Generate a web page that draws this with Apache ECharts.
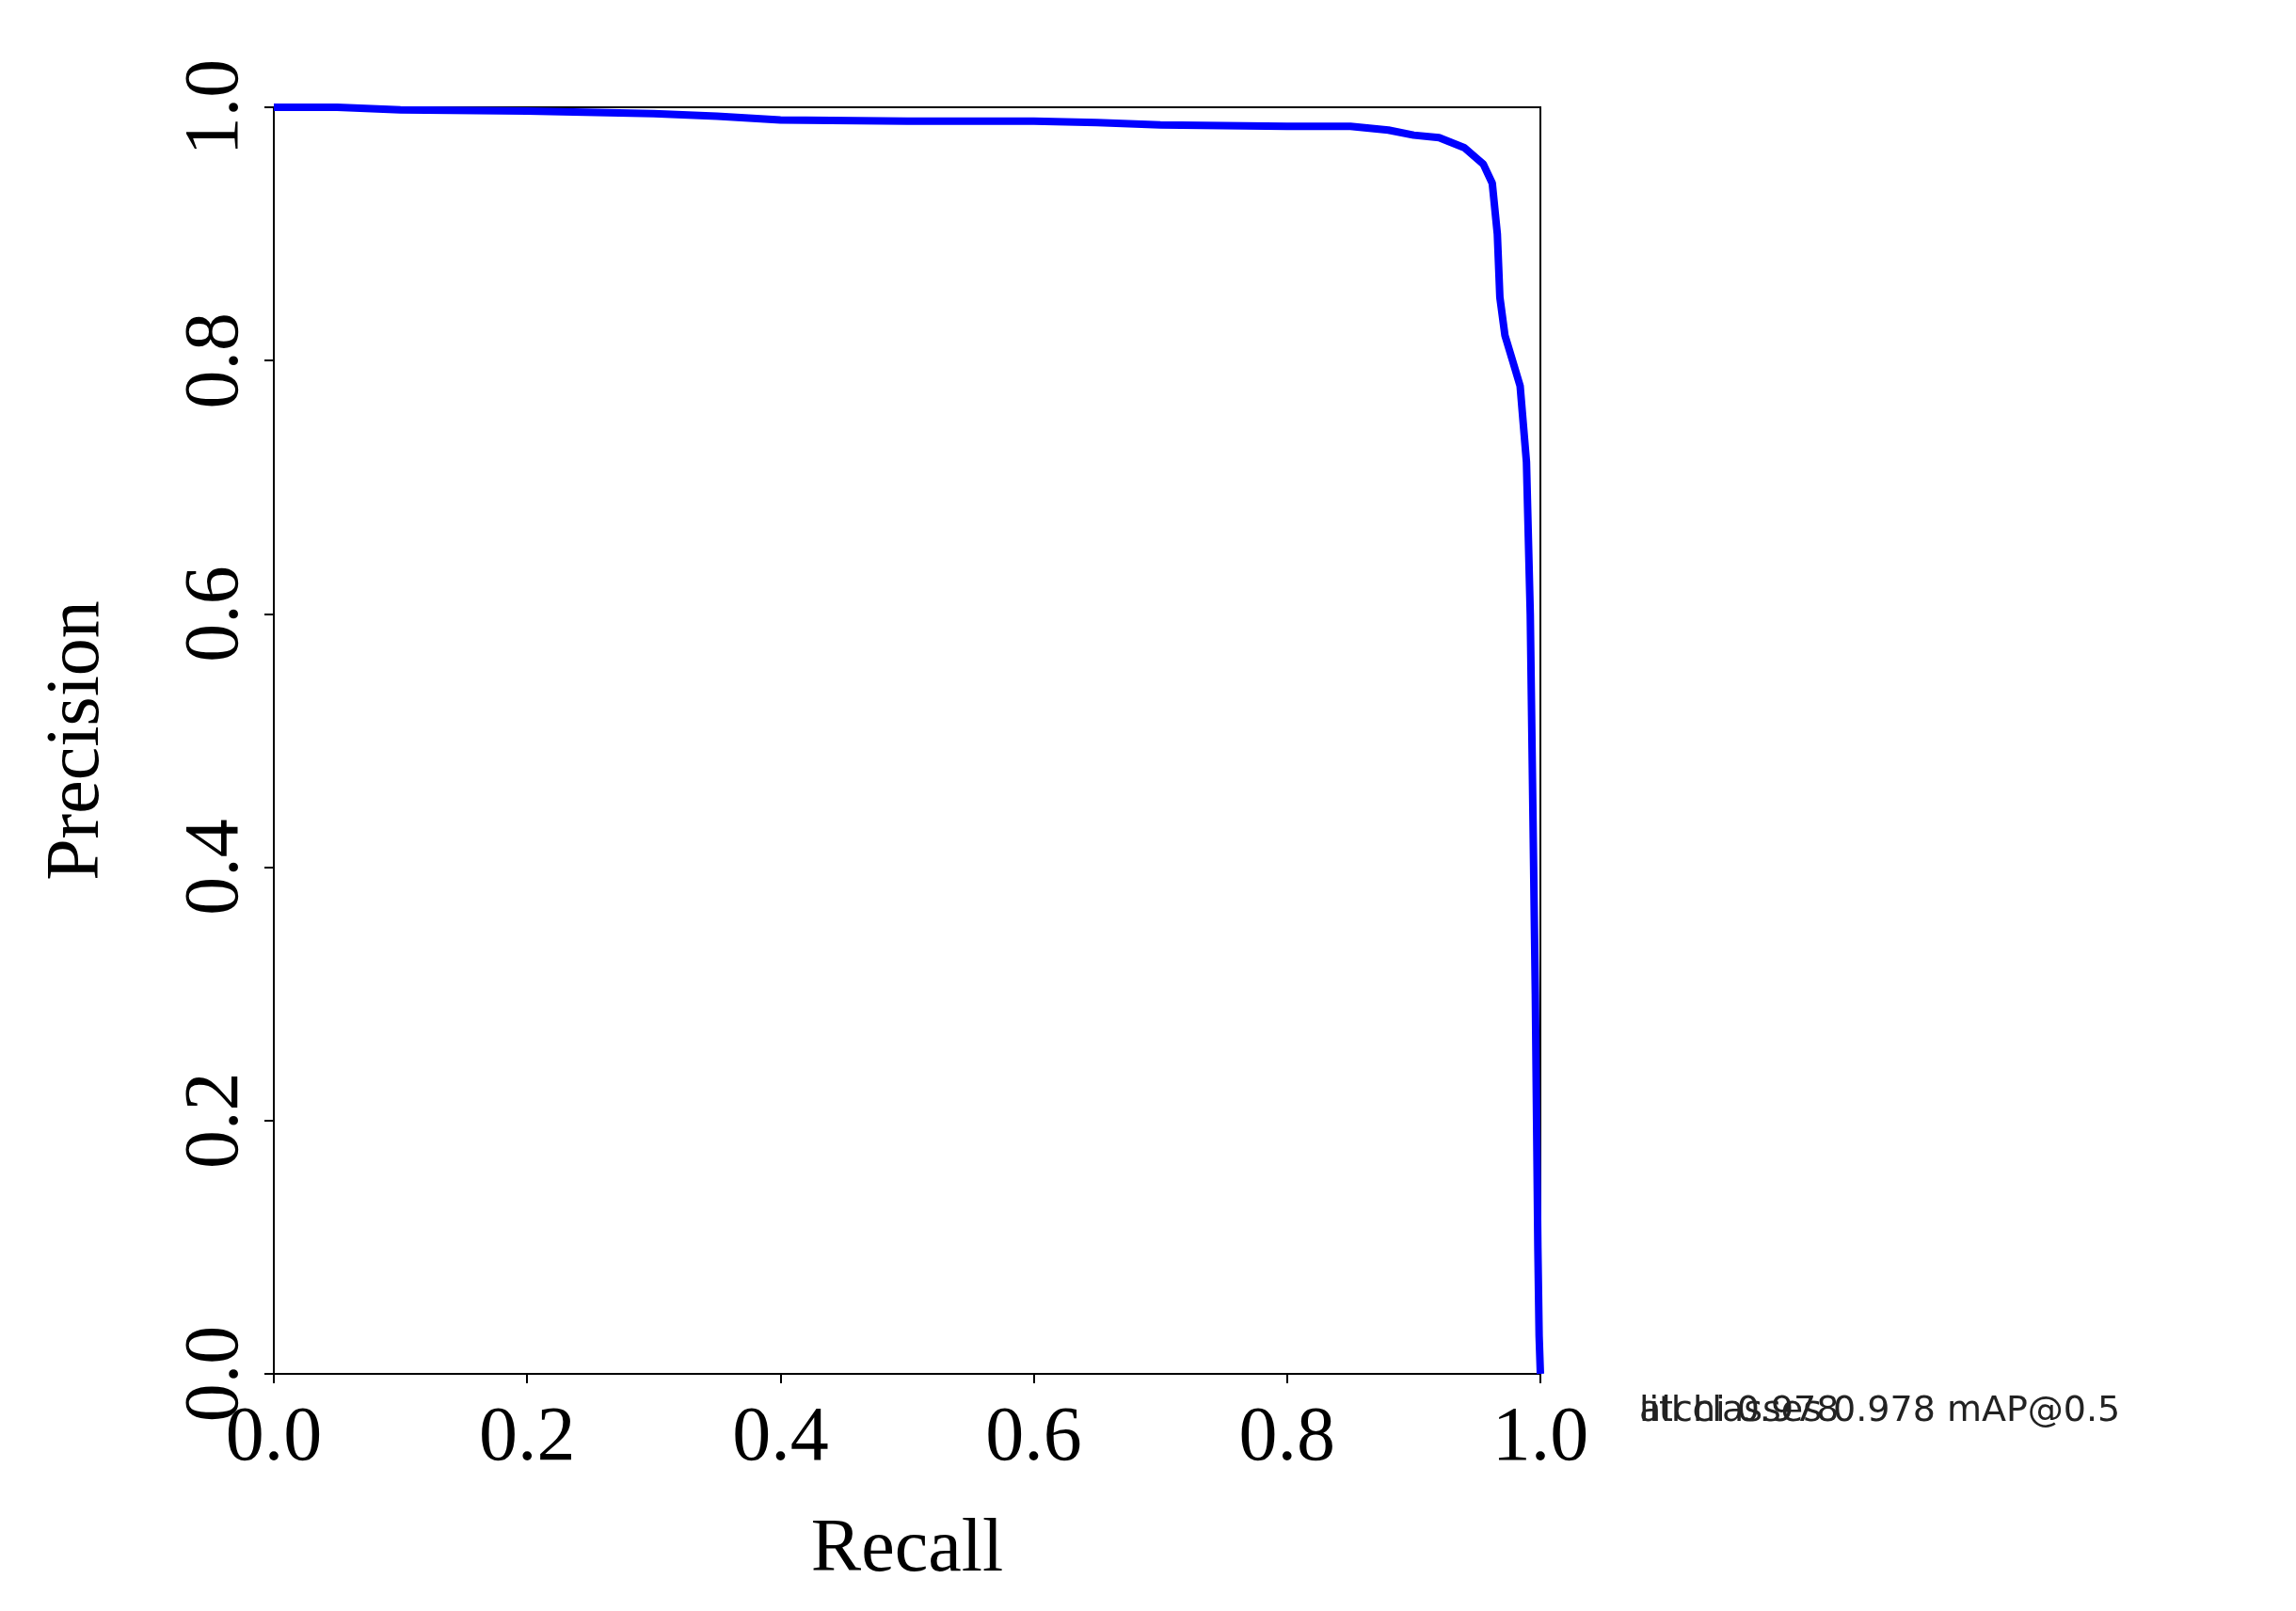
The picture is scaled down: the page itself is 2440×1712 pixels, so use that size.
<!DOCTYPE html>
<html>
<head>
<meta charset="utf-8">
<script src="https://cdn.jsdelivr.net/npm/echarts@6/dist/echarts.min.js"></script>
<style>html,body{margin:0;padding:0;background:#fff;}#chart{width:2440px;height:1712px;}</style>
</head>
<body>
<div id="chart"></div>
<script>
// PR curve
var recall = [0, 0.05, 0.1, 0.2, 0.3, 0.35, 0.4, 0.5, 0.6, 0.65, 0.7, 0.8, 0.85, 0.88, 0.9, 0.92, 0.94, 0.955, 0.962, 0.966, 0.968, 0.972, 0.978, 0.984, 0.989, 0.992, 0.994, 0.996, 0.997, 0.998, 0.999, 1.0];
var precision = [1.0, 1.0, 0.998, 0.997, 0.995, 0.993, 0.99, 0.989, 0.989, 0.988, 0.986, 0.985, 0.985, 0.982, 0.978, 0.976, 0.968, 0.955, 0.94, 0.9, 0.85, 0.82, 0.8, 0.78, 0.72, 0.6, 0.45, 0.3, 0.2, 0.1, 0.03, 0.0];

var pts = recall.map(function (r, i) { return [r, precision[i]]; });

var myChart = echarts.init(document.getElementById('chart'));
var tickFmt = function (v) { return v.toFixed(1); };
var serif = 'Liberation Serif';

var option = {
    animation: false,
    backgroundColor: '#ffffff',
    grid: { left: 291, top: 114, width: 1346, height: 1346, show: true, borderColor: '#000', borderWidth: 2 },
    legend: {
        left: 1713, top: 134, orient: 'vertical',
        padding: [16, 18, 16, 12], itemGap: 20,
        itemWidth: 88, itemHeight: 24,
        borderColor: '#d0d0d0', borderWidth: 2, borderRadius: 4,
        textStyle: { fontFamily: 'DejaVu Sans', fontSize: 38, color: '#222', padding: [0, 0, 0, 12] },
        data: [
            { name: 'litchi 0.978', icon: 'path://M0,0L1,0', lineStyle: { width: 2, color: '#1f77b4' } },
            { name: 'all classes 0.978 mAP@0.5', icon: 'path://M0,0L1,0', lineStyle: { width: 10, color: '#0000ff' } }
        ]
    },
    xAxis: {
        type: 'value', min: 0, max: 1, interval: 0.2,
        name: 'Recall', nameLocation: 'middle', nameGap: 148,
        nameTextStyle: { fontFamily: serif, fontSize: 80, color: '#000' },
        axisLine: { show: true, lineStyle: { color: '#000', width: 2 } },
        axisTick: { show: true, length: 10, lineStyle: { color: '#000', width: 2 } },
        axisLabel: { formatter: tickFmt, fontFamily: serif, fontSize: 82, color: '#000', margin: 28 },
        splitLine: { show: false }
    },
    yAxis: {
        type: 'value', min: 0, max: 1, interval: 0.2,
        name: 'Precision', nameLocation: 'middle', nameGap: 168,
        nameTextStyle: { fontFamily: serif, fontSize: 80, color: '#000' },
        axisLine: { show: true, lineStyle: { color: '#000', width: 2 } },
        axisTick: { show: true, length: 10, lineStyle: { color: '#000', width: 2 } },
        axisLabel: { formatter: tickFmt, rotate: 90, fontFamily: serif, fontSize: 82, color: '#000', margin: 20 },
        splitLine: { show: false }
    },
    series: [
        {
            name: 'litchi 0.978', type: 'line', data: pts, showSymbol: false, symbol: 'none',
            lineStyle: { color: '#1f77b4', width: 2 }, itemStyle: { color: '#1f77b4' }, z: 2
        },
        {
            name: 'all classes 0.978 mAP@0.5', type: 'line', data: pts, showSymbol: false, symbol: 'none',
            lineStyle: { color: '#0000ff', width: 8 }, itemStyle: { color: '#0000ff' }, z: 3
        }
    ]
};
myChart.setOption(option);
window.onresize = function () { myChart.resize(); };
</script>
</body>
</html>
